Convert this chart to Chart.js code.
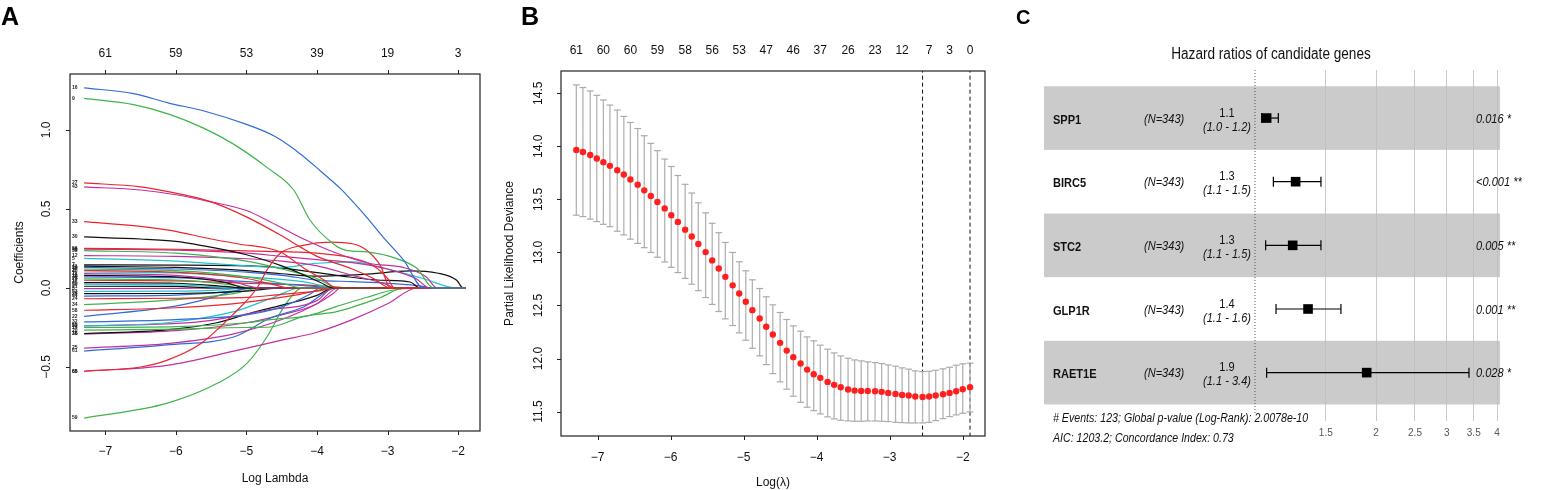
<!DOCTYPE html>
<html>
<head>
<meta charset="utf-8">
<script src="https://cdn.jsdelivr.net/npm/chart.js@4.4.1/dist/chart.umd.min.js"></script>
<style>
  html, body { margin: 0; padding: 0; background: #fff; }
  #wrap { position: relative; width: 1551px; height: 490px; overflow: hidden; }
  #wrap canvas { position: absolute; top: 0; }
  .tag { position: absolute; font-family: 'Liberation Sans', Arial, sans-serif; font-weight: bold; line-height: 1; color: #000; }
</style>
</head>
<body>
<div id="wrap">
  <canvas id="chartA" width="500" height="490" style="left:0px"></canvas>
  <canvas id="chartB" width="500" height="490" style="left:500px"></canvas>
  <canvas id="chartC" width="551" height="490" style="left:1000px"></canvas>
  <div class="tag" style="left:1px;top:4px;font-size:25px">A</div>
  <div class="tag" style="left:521px;top:4px;font-size:25px">B</div>
  <div class="tag" style="left:1016px;top:7px;font-size:20px">C</div>
</div>
<script>
// ---------- panel A : coefficient paths ----------
const aXTicks = [-7, -6, -5, -4, -3, -2];
const aYTicks = [-0.5, 0, 0.5, 1.0];
const aTopPos = [-7, -6, -5, -4, -3, -2];
const aTopLabels = ['61', '59', '53', '39', '19', '3'];

const K = '#111111', R = '#e8262e', G = '#3fb44a', B = '#2f6cd6', C = '#22c3cf', M = '#c2309f';
const coefColors = [B, G, R, M, R, R, K, R, M, G, M, C, K, K, B, G, R, C, M, K, B, G, R, K, C, K, M, C, K, B, R, G, R, B, B, C, M, G, G, K, M, B, M, G, M];
const coefTags = ['16', '9', '27', '43', '33', '66', '30', '56', '46', '38', '12', '5', '41', '7', '19', '48', '2', '40', '11', '13', '35', '28', '17', '45', '50', '21', '3', '53', '26', '44', '24', '34', '58', '22', '32', '52', '39', '14', '20', '18', '25', '61', '65', '59', '36'];
// each path: [log lambda, coefficient]
const coefPaths = [
  [[-7.3, 1.266], [-6.6, 1.23], [-6.1, 1.17], [-5.6, 1.12], [-5, 1.035], [-4.6, 0.96], [-4.24, 0.85], [-3.95, 0.74], [-3.67, 0.63], [-3.34, 0.47], [-3.06, 0.32], [-2.77, 0.175], [-2.49, 0], [-1.9, 0]],
  [[-7.3, 1.20], [-6.6, 1.16], [-6.1, 1.10], [-5.6, 1.01], [-5.2, 0.915], [-4.7, 0.76], [-4.33, 0.62], [-4.1, 0.43], [-3.77, 0.28], [-3.6, 0.24], [-3.29, 0.228], [-2.87, 0.186], [-2.58, 0.123], [-2.35, 0], [-1.9, 0]],
  [[-7.3, 0.665], [-6.5, 0.64], [-6, 0.60], [-5.5, 0.545], [-5, 0.45], [-4.5, 0.33], [-4.24, 0.26], [-4, 0.2], [-3.5, 0.12], [-3.2, 0.06], [-2.96, 0], [-1.9, 0]],
  [[-7.3, 0.64], [-6.5, 0.62], [-6, 0.59], [-5.5, 0.545], [-5, 0.49], [-4.66, 0.418], [-4.19, 0.31], [-3.72, 0.22], [-3.25, 0.155], [-2.78, 0.13], [-2.45, 0.07], [-2.3, 0], [-1.9, 0]],
  [[-7.3, 0.42], [-6.5, 0.39], [-6.08, 0.364], [-5.5, 0.31], [-5.13, 0.28], [-4.52, 0.228], [-4.2, 0.13], [-3.9, 0.05], [-3.72, 0], [-1.9, 0]],
  [[-7.3, -0.527], [-6.5, -0.50], [-6.13, -0.458], [-5.65, -0.353], [-5.18, -0.163], [-4.85, 0], [-4.7, 0.12], [-4.52, 0.22], [-4.2, 0.27], [-3.8, 0.29], [-3.5, 0.28], [-3.3, 0.24], [-3.1, 0.14], [-2.96, 0], [-1.9, 0]],
  [[-7.3, 0.323], [-6.5, 0.31], [-6, 0.295], [-5.65, 0.27], [-5, 0.21], [-4.5, 0.14], [-4.24, 0.093], [-3.95, 0.035], [-3.77, 0], [-1.9, 0]],
  [[-7.3, 0.25], [-6, 0.245], [-5, 0.235], [-4.5, 0.23], [-4, 0.22], [-3.5, 0.19], [-3.2, 0.14], [-3.0, 0.06], [-2.9, 0], [-1.9, 0]],
  [[-7.3, 0.245], [-6, 0.24], [-5, 0.22], [-4.5, 0.2], [-4, 0.18], [-3.5, 0.16], [-3, 0.12], [-2.6, 0.06], [-2.4, 0], [-1.9, 0]],
  [[-7.3, 0.236], [-6, 0.22], [-5, 0.17], [-4.5, 0.12], [-4, 0.06], [-3.7, 0], [-1.9, 0]],
  [[-7.3, 0.205], [-6, 0.2], [-5, 0.185], [-4.5, 0.17], [-4, 0.14], [-3.5, 0.08], [-3, 0.02], [-2.9, 0], [-1.9, 0]],
  [[-7.3, 0.187], [-6, 0.17], [-5, 0.14], [-4.5, 0.13], [-4.05, 0.155], [-3.5, 0.165], [-3, 0.12], [-2.5, 0.06], [-2.02, 0], [-1.9, 0]],
  [[-7.3, 0.138], [-6, 0.13], [-5, 0.11], [-4.5, 0.09], [-4, 0.075], [-3.34, 0.086], [-2.68, 0.108], [-2.3, 0.095], [-2.02, 0.049], [-1.93, 0], [-1.9, 0]],
  [[-7.3, 0.146], [-6, 0.145], [-5, 0.14], [-4.66, 0.133], [-3.72, 0.08], [-3.1, 0.049], [-2.68, 0.038], [-2.54, 0], [-1.9, 0]],
  [[-7.3, 0.13], [-6, 0.12], [-5, 0.1], [-4.5, 0.08], [-4, 0.05], [-3.5, 0.04], [-3, 0.03], [-2.5, 0.01], [-2.4, 0], [-1.9, 0]],
  [[-7.3, 0.12], [-6, 0.11], [-5, 0.07], [-4.5, 0.03], [-4.2, 0], [-1.9, 0]],
  [[-7.3, 0.111], [-6, 0.10], [-5, 0.06], [-4.6, 0.02], [-4.4, 0], [-1.9, 0]],
  [[-7.3, 0.101], [-6, 0.095], [-5, 0.07], [-4.2, 0.04], [-3.7, 0], [-1.9, 0]],
  [[-7.3, 0.091], [-6, 0.08], [-5.2, 0.04], [-4.8, 0], [-1.9, 0]],
  [[-7.3, 0.08], [-6, 0.07], [-5.3, 0.035], [-5, 0], [-1.9, 0]],
  [[-7.3, 0.07], [-6, 0.065], [-5, 0.04], [-4.3, 0.02], [-3.7, 0], [-1.9, 0]],
  [[-7.3, 0.057], [-6, 0.05], [-5.2, 0.02], [-4.9, 0], [-1.9, 0]],
  [[-7.3, 0.049], [-6, 0.045], [-5, 0.03], [-4, 0.015], [-3.5, 0], [-1.9, 0]],
  [[-7.3, 0.034], [-6, 0.03], [-5.3, 0.01], [-5, 0], [-1.9, 0]],
  [[-7.3, 0.024], [-6, 0.02], [-5.5, 0.01], [-5.2, 0], [-1.9, 0]],
  [[-7.3, 0.011], [-6, 0.01], [-5.5, 0], [-1.9, 0]],
  [[-7.3, -0.004], [-6, -0.003], [-5.5, 0], [-1.9, 0]],
  [[-7.3, -0.021], [-6, -0.02], [-5.3, -0.01], [-5, 0], [-1.9, 0]],
  [[-7.3, -0.036], [-6, -0.035], [-5, -0.02], [-4.5, 0], [-1.9, 0]],
  [[-7.3, -0.051], [-6, -0.045], [-5.2, -0.02], [-4.9, 0], [-1.9, 0]],
  [[-7.3, -0.068], [-6, -0.065], [-5, -0.06], [-4.5, -0.04], [-4, -0.02], [-3.7, 0], [-1.9, 0]],
  [[-7.3, -0.105], [-6.13, -0.078], [-5.18, -0.036], [-4.8, 0], [-1.9, 0]],
  [[-7.3, -0.141], [-6, -0.125], [-5.2, -0.1], [-4.24, -0.04], [-3.77, 0], [-1.9, 0]],
  [[-7.3, -0.18], [-6.08, -0.12], [-5.65, -0.08], [-5.13, -0.015], [-4.95, 0], [-1.9, 0]],
  [[-7.3, -0.215], [-6, -0.2], [-5, -0.17], [-4.5, -0.12], [-4.1, -0.04], [-3.95, 0], [-1.9, 0]],
  [[-7.3, -0.24], [-6.13, -0.22], [-5.18, -0.15], [-4.62, -0.06], [-4.24, 0], [-1.9, 0]],
  [[-7.3, -0.24], [-5.65, -0.213], [-4.71, -0.14], [-4, -0.08], [-3.77, 0], [-1.9, 0]],
  [[-7.3, -0.25], [-6, -0.245], [-5, -0.22], [-4.66, -0.2], [-4.1, -0.173], [-3.72, -0.116], [-3.3, -0.06], [-2.96, -0.016], [-2.6, 0], [-1.9, 0]],
  [[-7.3, -0.267], [-6, -0.26], [-5, -0.25], [-4.66, -0.247], [-4.19, -0.18], [-3.72, -0.15], [-3.1, -0.06], [-2.77, 0], [-1.9, 0]],
  [[-7.3, -0.288], [-6.13, -0.265], [-5.42, -0.22], [-4.95, -0.16], [-4.48, -0.107], [-4, -0.047], [-3.77, 0], [-1.9, 0]],
  [[-7.3, -0.38], [-6.13, -0.352], [-5.18, -0.29], [-4.47, -0.195], [-4, -0.1], [-3.77, -0.035], [-3.67, 0], [-1.9, 0]],
  [[-7.3, -0.399], [-6.13, -0.36], [-5.18, -0.31], [-4.66, -0.19], [-4.19, -0.12], [-3.72, 0], [-1.9, 0]],
  [[-7.3, -0.527], [-6.13, -0.49], [-5.18, -0.40], [-4.5, -0.33], [-4, -0.28], [-3.5, -0.2], [-3, -0.1], [-2.58, 0], [-1.9, 0]],
  [[-7.3, -0.823], [-6.13, -0.73], [-5.42, -0.605], [-5.0, -0.48], [-4.71, -0.31], [-4.47, -0.12], [-4.28, -0.014], [-4.19, 0], [-1.9, 0]],
  [[-7.3, -0.292], [-6, -0.27], [-5, -0.22], [-4.5, -0.17], [-4, -0.1], [-3.7, 0], [-1.9, 0]]
];

// ---------- panel B : cross-validation curve ----------
const cvLogLambda = [-7.29, -7.20, -7.10, -7.01, -6.92, -6.83, -6.73, -6.64, -6.55, -6.45, -6.36, -6.27, -6.18, -6.08, -5.99, -5.90, -5.80, -5.71, -5.62, -5.52,
  -5.43, -5.34, -5.25, -5.15, -5.06, -4.97, -4.88, -4.78, -4.69, -4.60, -4.50, -4.41, -4.32, -4.22, -4.13, -4.04, -3.95, -3.85, -3.76, -3.67,
  -3.57, -3.48, -3.39, -3.30, -3.20, -3.11, -3.02, -2.92, -2.83, -2.74, -2.65, -2.55, -2.46, -2.37, -2.27, -2.18, -2.09, -2.00, -1.90];
const cvMean = [13.965, 13.946, 13.918, 13.886, 13.851, 13.816, 13.775, 13.734, 13.687, 13.639, 13.585, 13.532, 13.475, 13.415, 13.351, 13.288, 13.215, 13.15, 13.079, 13.003,
  12.925, 12.849, 12.77, 12.69, 12.613, 12.535, 12.456, 12.377, 12.30, 12.226, 12.148, 12.075, 12.013, 11.953, 11.896, 11.852, 11.818, 11.78, 11.752, 11.73,
  11.708, 11.698, 11.695, 11.695, 11.692, 11.686, 11.676, 11.667, 11.657, 11.651, 11.642, 11.638, 11.642, 11.651, 11.664, 11.676, 11.692, 11.711, 11.73];
const cvUpper = [14.579, 14.554, 14.522, 14.481, 14.437, 14.389, 14.342, 14.282, 14.225, 14.168, 14.10, 14.028, 13.959, 13.88, 13.81, 13.725, 13.642, 13.56, 13.468, 13.373,
  13.275, 13.186, 13.094, 13.0, 12.912, 12.827, 12.742, 12.66, 12.582, 12.506, 12.434, 12.368, 12.308, 12.258, 12.204, 12.167, 12.126, 12.088, 12.053, 12.025,
  12.003, 11.987, 11.978, 11.969, 11.962, 11.953, 11.94, 11.928, 11.912, 11.90, 11.884, 11.877, 11.88, 11.89, 11.903, 11.918, 11.937, 11.95, 11.956];
const cvLower = [13.351, 13.338, 13.314, 13.291, 13.265, 13.243, 13.2, 13.165, 13.125, 13.085, 13.045, 13.0, 12.955, 12.91, 12.86, 12.81, 12.755, 12.70, 12.64, 12.575,
  12.51, 12.443, 12.374, 12.311, 12.242, 12.173, 12.097, 12.025, 11.943, 11.858, 11.78, 11.711, 11.645, 11.588, 11.541, 11.509, 11.478, 11.45, 11.431, 11.418,
  11.412, 11.409, 11.409, 11.412, 11.412, 11.409, 11.406, 11.399, 11.396, 11.393, 11.393, 11.393, 11.399, 11.415, 11.434, 11.453, 11.469, 11.484, 11.497];
const bTopPos = [-7.29, -6.92, -6.55, -6.18, -5.80, -5.43, -5.06, -4.69, -4.32, -3.95, -3.57, -3.20, -2.83, -2.46, -2.18, -1.90];
const bTopLabels = ['61', '60', '60', '59', '58', '56', '53', '47', '46', '37', '26', '23', '12', '7', '3', '0'];
const bXTicks = [-7, -6, -5, -4, -3, -2];
const bYTicks = [11.5, 12.0, 12.5, 13.0, 13.5, 14.0, 14.5];
const lambdaMarks = [-2.55, -1.90];

// ---------- panel C : forest plot ----------
const genes = ['SPP1', 'BIRC5', 'STC2', 'GLP1R', 'RAET1E'];
const nText = ['(N=343)', '(N=343)', '(N=343)', '(N=343)', '(N=343)'];
const hr = [1.069, 1.262, 1.241, 1.355, 1.896];
const hrLow = [1.039, 1.111, 1.063, 1.128, 1.069];
const hrHigh = [1.143, 1.459, 1.459, 1.636, 3.406];
const hrText = ['1.1', '1.3', '1.3', '1.4', '1.9'];
const ciText = ['(1.0 - 1.2)', '(1.1 - 1.5)', '(1.1 - 1.5)', '(1.1 - 1.6)', '(1.1 - 3.4)'];
const pText = ['0.016 *', '<0.001 **', '0.005 **', '0.001 **', '0.028 *'];
const cXTicks = [1.5, 2, 2.5, 3, 3.5, 4];
const cTitle = 'Hazard ratios of candidate genes';
const footer = ['# Events: 123; Global p-value (Log-Rank): 2.0078e-10', 'AIC: 1203.2; Concordance Index: 0.73'];

const SANS = "'Liberation Sans', Arial, sans-serif";
Chart.defaults.font.family = SANS;
Chart.defaults.color = '#111';
Chart.defaults.animation = false;

function minus(v, d) {
  const s = Math.abs(v).toFixed(d);
  return v < 0 ? '\u2212' + s : s;
}

// box round the plot region plus outward tick marks on the listed axes
const frame = {
  id: 'frame',
  afterDraw(chart, args, opts) {
    const { ctx, chartArea: a } = chart;
    ctx.save();
    ctx.strokeStyle = '#222';
    ctx.lineWidth = 1.2;
    ctx.strokeRect(a.left, a.top, a.right - a.left, a.bottom - a.top);
    ctx.lineWidth = 1;
    (opts.marks || []).forEach(id => {
      const s = chart.scales[id];
      s.ticks.forEach(t => {
        const p = Math.round(s.getPixelForValue(t.value)) + 0.5;
        ctx.beginPath();
        if (s.position === 'bottom') { ctx.moveTo(p, a.bottom); ctx.lineTo(p, a.bottom + 4); }
        else if (s.position === 'top') { ctx.moveTo(p, a.top); ctx.lineTo(p, a.top - 4); }
        else { ctx.moveTo(a.left, p); ctx.lineTo(a.left - 4, p); }
        ctx.stroke();
      });
    });
    ctx.restore();
  }
};

function tickAxis(min, max, ticks, opts) {
  return Object.assign({
    type: 'linear', min: min, max: max, offset: false,
    afterBuildTicks: s => { s.ticks = ticks.map(v => ({ value: v })); },
    grid: { display: false, drawTicks: false, offset: false },
    border: { display: false }
  }, opts);
}

// ----- chart A -----
const pathTagPlugin = {
  id: 'pathTags',
  afterDatasetsDraw(chart) {
    const { ctx, chartArea: a, scales: { y } } = chart;
    ctx.save();
    ctx.font = 'bold 5px ' + SANS;
    ctx.fillStyle = '#222';
    ctx.textBaseline = 'middle';
    coefPaths.forEach((p, i) => ctx.fillText(coefTags[i], a.left + 2, y.getPixelForValue(p[0][1])));
    ctx.restore();
  }
};

new Chart(document.getElementById('chartA'), {
  type: 'scatter',
  data: {
    datasets: coefPaths.map((p, i) => ({
      type: 'line',
      data: p.map(([x, y]) => ({ x, y })),
      borderColor: coefColors[i],
      borderWidth: 1.2,
      pointRadius: 0,
      cubicInterpolationMode: 'monotone',
      fill: false
    }))
  },
  options: {
    responsive: false,
    layout: { padding: { left: 0, right: 20, top: 0, bottom: 0 } },
    plugins: { legend: { display: false }, tooltip: { enabled: false }, frame: { marks: ['x', 'x2', 'y'] } },
    scales: {
      x: tickAxis(-7.5, -1.69, aXTicks, {
        position: 'bottom',
        afterFit: s => { s.height = 59; },
        ticks: { callback: v => minus(v, 0), font: { size: 12 }, padding: 13.5, maxRotation: 0, autoSkip: false },
        title: { display: true, text: 'Log Lambda', font: { size: 12 }, padding: { top: 0, bottom: 4 } }
      }),
      x2: tickAxis(-7.5, -1.69, aTopPos, {
        position: 'top',
        afterFit: s => { s.height = 74; },
        ticks: { callback: (v, i) => aTopLabels[i], font: { size: 12 }, padding: 12.8, maxRotation: 0, autoSkip: false }
      }),
      y: tickAxis(-0.905, 1.354, aYTicks, {
        position: 'left',
        afterFit: s => { s.width = 70; },
        ticks: { callback: v => minus(v, 1), font: { size: 12 }, minRotation: 90, maxRotation: 90, crossAlign: 'center', padding: 11, autoSkip: false },
        title: { display: true, text: 'Coefficients', font: { size: 12 }, padding: { top: 12.8, bottom: 0 } }
      })
    }
  },
  plugins: [frame, pathTagPlugin]
});

// ----- chart B -----
// vertical error bars: one segment per lambda, broken by a gap point
const errorSegments = cvLogLambda.flatMap((x, i) => [{ x, y: cvLower[i] }, { x, y: cvUpper[i] }, { x, y: null }]);

new Chart(document.getElementById('chartB'), {
  type: 'scatter',
  data: {
    datasets: [
      {
        type: 'scatter',
        data: cvLogLambda.map((x, i) => ({ x, y: cvMean[i] })),
        pointRadius: 3.2,
        pointBackgroundColor: '#ff1f1f',
        pointBorderWidth: 0,
        order: 0
      },
      {
        type: 'scatter',
        data: cvLogLambda.flatMap((x, i) => [{ x, y: cvLower[i] }, { x, y: cvUpper[i] }]),
        pointStyle: 'line',
        pointRadius: 3.4,
        pointBorderColor: '#ababab',
        pointBorderWidth: 1.2,
        order: 1
      },
      {
        type: 'line',
        data: errorSegments,
        borderColor: '#b3b3b3',
        borderWidth: 1.3,
        pointRadius: 0,
        spanGaps: false,
        order: 2
      },
      ...lambdaMarks.map(v => ({
        type: 'line',
        data: [{ x: v, y: 11.0 }, { x: v, y: 15.0 }],
        borderColor: '#111',
        borderWidth: 1,
        borderDash: [4, 3],
        pointRadius: 0,
        order: 3
      }))
    ]
  },
  options: {
    responsive: false,
    layout: { padding: { left: 0, right: 15, top: 0, bottom: 0 } },
    plugins: { legend: { display: false }, tooltip: { enabled: false }, frame: { marks: ['x', 'y'] } },
    scales: {
      x: tickAxis(-7.5, -1.695, bXTicks, {
        position: 'bottom',
        afterFit: s => { s.height = 54; },
        ticks: { callback: v => minus(v, 0), font: { size: 12 }, padding: 14.8, maxRotation: 0, autoSkip: false },
        title: { display: true, text: 'Log(\u03bb)', font: { size: 12 }, padding: { top: 0, bottom: 0 } }
      }),
      x2: tickAxis(-7.5, -1.695, bTopPos, {
        position: 'top',
        afterFit: s => { s.height = 71; },
        ticks: { callback: (v, i) => bTopLabels[i], font: { size: 12 }, padding: 12.8, maxRotation: 0, autoSkip: false }
      }),
      y: tickAxis(11.27, 14.71, bYTicks, {
        position: 'left',
        afterFit: s => { s.width = 61; },
        ticks: { callback: v => v.toFixed(1), font: { size: 12 }, minRotation: 90, maxRotation: 90, crossAlign: 'center', padding: 10.3, autoSkip: false },
        title: { display: true, text: 'Partial Likelihood Deviance', font: { size: 12 }, padding: { top: 2.8, bottom: 0 } }
      })
    }
  },
  plugins: [frame]
});

// ----- chart C -----
const NARROW_X = 0.85;   // horizontal squeeze to mimic the condensed face of the original
function narrowText(ctx, text, x, y, align) {
  ctx.save();
  ctx.translate(x, y);
  ctx.scale(NARROW_X, 1);
  ctx.textAlign = align;
  ctx.fillText(text, 0, 0);
  ctx.restore();
}

const bands = {
  id: 'bands',
  beforeDraw(chart) {
    const { ctx, chartArea: a, scales: { y } } = chart;
    ctx.save();
    ctx.fillStyle = '#cbcbcb';
    genes.forEach((g, i) => {
      if (i % 2) return;
      const t = y.getPixelForValue(i + 0.5), b = y.getPixelForValue(i + 1.5);
      ctx.fillRect(a.left, t, a.right - a.left, b - t);
    });
    ctx.restore();
  }
};

const forestText = {
  id: 'forestText',
  afterDraw(chart) {
    const { ctx, chartArea: a, scales: { y } } = chart;
    ctx.save();
    ctx.fillStyle = '#111';
    ctx.textBaseline = 'middle';
    ctx.font = '16px ' + SANS;
    narrowText(ctx, cTitle, 271, 55, 'center');
    genes.forEach((g, i) => {
      const py = y.getPixelForValue(i + 1);
      ctx.font = 'bold 13px ' + SANS;
      narrowText(ctx, g, 53, py + 2, 'left');
      ctx.font = 'italic 13px ' + SANS;
      narrowText(ctx, nText[i], 144, py + 1, 'left');
      narrowText(ctx, pText[i], 476, py + 1, 'left');
      ctx.font = '13px ' + SANS;
      narrowText(ctx, hrText[i], 227, py - 5, 'center');
      ctx.font = 'italic 13px ' + SANS;
      narrowText(ctx, ciText[i], 227, py + 9, 'center');
    });
    ctx.font = 'italic 12.5px ' + SANS;
    footer.forEach((t, k) => narrowText(ctx, t, 53, a.bottom - 2 + k * 20, 'left'));
    ctx.restore();
  }
};

new Chart(document.getElementById('chartC'), {
  type: 'scatter',
  data: {
    datasets: [
      {
        type: 'line',
        data: [{ x: 1, y: 0.245 }, { x: 1, y: 5.64 }],
        borderColor: '#555',
        borderWidth: 1,
        borderDash: [1, 2],
        pointRadius: 0
      },
      ...genes.map((g, i) => ({
        type: 'line',
        data: [{ x: hrLow[i], y: i + 1 }, { x: hrHigh[i], y: i + 1 }],
        borderColor: '#000',
        borderWidth: 1.2,
        pointStyle: 'line',
        pointRotation: 90,
        pointRadius: 5,
        pointBorderColor: '#000',
        pointBorderWidth: 1.2
      })),
      {
        type: 'scatter',
        data: genes.map((g, i) => ({ x: hr[i], y: i + 1 })),
        pointStyle: 'rect',
        pointRadius: 6.8,
        pointBackgroundColor: '#000',
        pointBorderColor: '#000',
        pointBorderWidth: 0
      }
    ]
  },
  options: {
    responsive: false,
    layout: { padding: { left: 44, right: 51, top: 70, bottom: 0 } },
    plugins: { legend: { display: false }, tooltip: { enabled: false } },
    scales: {
      x: {
        type: 'logarithmic', min: 0.2987, max: 4.068,
        afterBuildTicks: s => { s.ticks = cXTicks.map(v => ({ value: v })); },
        afterFit: s => { s.height = 69; },
        ticks: { callback: v => String(v), font: { size: 10 }, color: '#555', padding: 6, maxRotation: 0, autoSkip: false },
        grid: { color: '#bdbdbd', lineWidth: 0.8, drawTicks: false },
        border: { display: false }
      },
      y: { type: 'linear', min: 0.245, max: 5.76, reverse: true, display: false }
    }
  },
  plugins: [bands, forestText]
});
</script>
</body>
</html>
